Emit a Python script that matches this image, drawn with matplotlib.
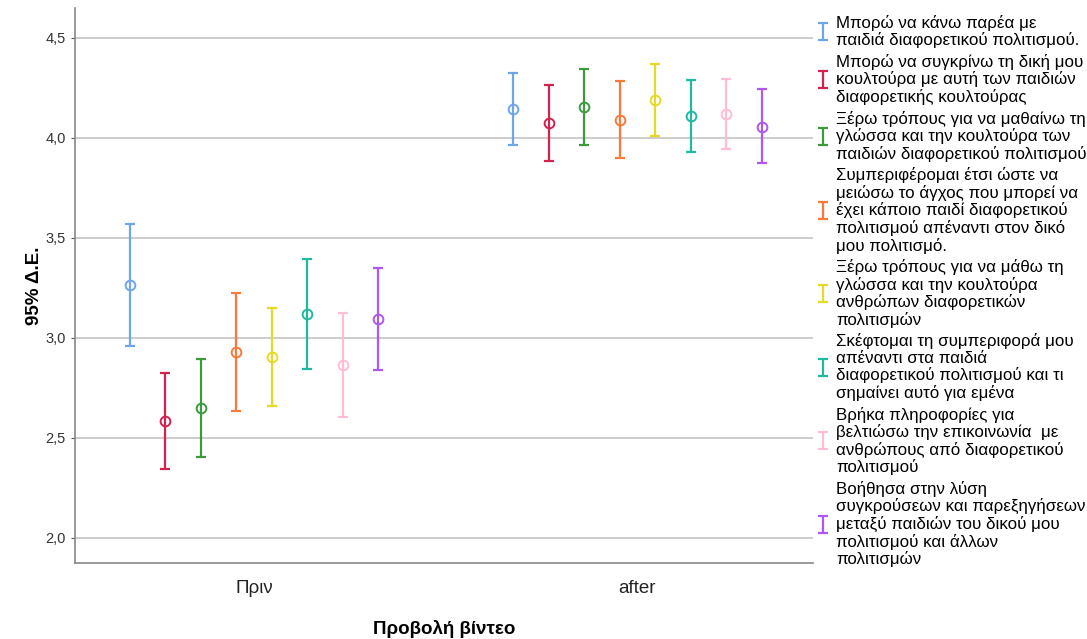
import numpy as np
import matplotlib
matplotlib.use('Agg')
import matplotlib.pyplot as plt

plt.rcParams['font.family'] = ['Liberation Sans', 'DejaVu Sans']

groups = ['Πριν', 'after']

labels = [
    'Μπορώ να κάνω παρέα με\nπαιδιά διαφορετικού πολιτισμού.',
    'Μπορώ να συγκρίνω τη δική μου\nκουλτούρα με αυτή των παιδιών\nδιαφορετικής κουλτούρας',
    'Ξέρω τρόπους για να μαθαίνω τη\nγλώσσα και την κουλτούρα των\nπαιδιών διαφορετικού πολιτισμού',
    'Συμπεριφέρομαι έτσι ώστε να\nμειώσω το άγχος που μπορεί να\nέχει κάποιο παιδί διαφορετικού\nπολιτισμού απέναντι στον δικό\nμου πολιτισμό.',
    'Ξέρω τρόπους για να μάθω τη\nγλώσσα και την κουλτούρα\nανθρώπων διαφορετικών\nπολιτισμών',
    'Σκέφτομαι τη συμπεριφορά μου\nαπέναντι στα παιδιά\nδιαφορετικού πολιτισμού και τι\nσημαίνει αυτό για εμένα',
    'Βρήκα πληροφορίες για\nβελτιώσω την επικοινωνία  με\nανθρώπους από διαφορετικού\nπολιτισμού',
    'Βοήθησα στην λύση\nσυγκρούσεων και παρεξηγήσεων\nμεταξύ παιδιών του δικού μου\nπολιτισμού και άλλων\nπολιτισμών',
]

colors = ['#6ea6ec', '#d4214e', '#3d9a3c', '#f77a3a',
          '#e8d926', '#1fb8a0', '#ffbcd8', '#b056f2']

# means, lower and upper 95% CI: [before, after]
means = [[3.267, 4.145], [2.585, 4.073], [2.648, 4.155], [2.930, 4.092],
         [2.903, 4.192], [3.122, 4.110], [2.867, 4.120], [3.095, 4.057]]
lower = [[2.960, 3.963], [2.343, 3.885], [2.403, 3.967], [2.635, 3.898],
         [2.658, 4.008], [2.845, 3.930], [2.607, 3.943], [2.838, 3.873]]
upper = [[3.570, 4.327], [2.826, 4.263], [2.895, 4.345], [3.225, 4.285],
         [3.148, 4.372], [3.393, 4.288], [3.123, 4.295], [3.348, 4.243]]


def main():
    fig = plt.figure(figsize=(10.87, 6.39), dpi=100)
    ax = fig.add_axes([0.069, 0.119, 0.679, 0.8685])

    x = np.arange(len(groups))
    step = 0.0925
    for i, (m, lo, hi, c, lab) in enumerate(zip(means, lower, upper, colors, labels)):
        m = np.array(m)
        err = np.vstack([m - np.array(lo), np.array(hi) - m])
        xi = x + (i - 3.5) * step
        ax.errorbar(xi, m, yerr=err, fmt='none', ecolor=c, elinewidth=1.6,
                    capsize=3.4, capthick=1.6, label=lab, zorder=3)
        ax.plot(xi, m, 'o', mfc='none', mec=c, mew=1.4, ms=7, zorder=4)

    ax.set_xlim(-0.467, 1.458)
    ax.set_ylim(1.875, 4.65)
    ax.set_yticks([2.0, 2.5, 3.0, 3.5, 4.0, 4.5])
    ax.set_yticklabels(['2,0', '2,5', '3,0', '3,5', '4,0', '4,5'])
    ax.set_xticks(x)
    ax.set_xticklabels(groups, fontsize=13.5)
    ax.tick_params(axis='y', length=3, labelsize=10.5, colors='#555555', labelcolor='#333333')
    ax.tick_params(axis='x', length=0, pad=12, labelcolor='#222222')
    ax.yaxis.grid(True, color='#c8c8c8', linewidth=1.3)
    ax.set_axisbelow(True)
    for s in ['top', 'right']:
        ax.spines[s].set_visible(False)
    for s in ['left', 'bottom']:
        ax.spines[s].set_color('#888888')
        ax.spines[s].set_linewidth(1.2)

    ax.set_ylabel('95% Δ.Ε.', fontsize=13.5, fontweight='bold', labelpad=2)
    ax.set_xlabel('Προβολή βίντεο', fontsize=13.5, fontweight='bold', labelpad=17)

    leg = fig.legend(loc='upper left', bbox_to_anchor=(0.752, 0.977), frameon=False,
                     fontsize=12.2, handlelength=0.6, handletextpad=0.5,
                     labelspacing=0.33, borderaxespad=0, borderpad=0)
    for t in leg.get_texts():
        t.set_linespacing(1.12)

    fig.savefig('out.png', dpi=100)


if __name__ == '__main__':
    main()
